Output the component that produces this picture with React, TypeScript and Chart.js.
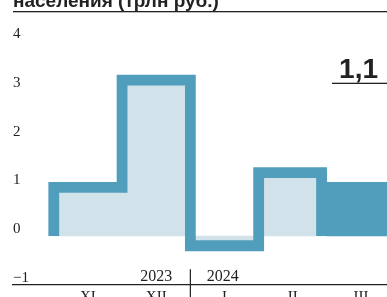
import React, { useEffect, useRef } from 'react';
import { Chart, registerables } from 'chart.js';

Chart.register(...registerables);

// ---- data ----
const months = ['XI', 'XII', 'I', 'II', 'III'];
const values = [1.0, 3.2, -0.2, 1.3, 1.1];
const highlightIndex = 4; // last month shown as solid bar
const yTicks = [-1, 0, 1, 2, 3, 4];
const years = ['2023', '2024'];
const yearBreak = 1.5; // between XII and I
const titleText = 'населения (трлн руб.)';
const calloutText = '1,1';

// ---- style ----
const DARK = '#509ebb';
const LIGHT = '#d2e2ea';
const INK = '#222222';
const SERIF = '"Liberation Serif", serif';
const SANS = '"Liberation Sans", Arial, sans-serif';
const W = 387;
const H = 297;

const decorPlugin = {
  id: 'decor',
  afterDatasetsDraw(chart: any) {
    const ctx = chart.ctx as CanvasRenderingContext2D;
    const area = chart.chartArea;
    const xs = chart.scales.x;
    const bars = chart.getDatasetMeta(0).data as any[];
    const lw = 10.8;

    // step outline over the regular months
    ctx.save();
    ctx.strokeStyle = DARK;
    ctx.lineWidth = lw;
    ctx.lineJoin = 'miter';
    ctx.lineCap = 'butt';
    ctx.beginPath();
    const base = bars[0].base;
    for (let i = 0; i < highlightIndex; i++) {
      const b = bars[i];
      const l = b.x - b.width / 2;
      const r = b.x + b.width / 2;
      if (i === 0) ctx.moveTo(l, base);
      ctx.lineTo(l, b.y);
      ctx.lineTo(i === highlightIndex - 1 ? r - lw / 2 : r, b.y);
    }
    const last = bars[highlightIndex - 1];
    ctx.lineTo(last.x + last.width / 2 - lw / 2, base);
    ctx.stroke();
    ctx.restore();

    ctx.save();
    // year divider + labels
    const xb = xs.getPixelForValue(yearBreak);
    ctx.fillStyle = INK;
    ctx.fillRect(xb - 0.6, area.bottom - 15.5, 1.2, H);
    ctx.font = `16px ${SERIF}`;
    ctx.textBaseline = 'alphabetic';
    ctx.textAlign = 'right';
    ctx.fillText(years[0], xb - 18, area.bottom - 3.7);
    ctx.textAlign = 'left';
    ctx.fillText(years[1], xb + 16.5, area.bottom - 3.7);

    // title (cut off at top) + rule
    ctx.font = `bold 19px ${SANS}`;
    ctx.textAlign = 'left';
    ctx.fillText(titleText, 13, 6.5);
    ctx.fillRect(13, 11, W - 13, 1.3);

    // callout
    ctx.font = `bold 28px ${SANS}`;
    ctx.textAlign = 'right';
    ctx.fillText(calloutText, 378, 78);
    ctx.fillRect(332, 82.7, W - 332, 1.3);
    ctx.restore();
  },
};

export default function App() {
  const ref = useRef<HTMLCanvasElement>(null);

  useEffect(() => {
    if (!ref.current) return;
    const chart = new Chart(ref.current, {
      type: 'bar',
      data: {
        datasets: [
          {
            data: values.map((v, i) => ({ x: i, y: v })),
            backgroundColor: values.map((_, i) => (i === highlightIndex ? DARK : LIGHT)),
            borderWidth: 0,
            barPercentage: 1,
            categoryPercentage: 1,
          },
        ],
      },
      options: {
        animation: false,
        responsive: false,
        devicePixelRatio: 1,
        layout: { padding: { top: 41.2, left: 13, right: 0, bottom: 0 } },
        plugins: { legend: { display: false }, tooltip: { enabled: false }, title: { display: false } },
        scales: {
          x: {
            type: 'linear',
            offset: false,
            min: -1.097,
            max: 4.379,
            grid: { display: false, drawTicks: false, offset: false },
            border: { display: true, color: INK, width: 1.3 },
            afterBuildTicks: (axis: any) => {
              axis.ticks = months.map((_, i) => ({ value: i }));
            },
            afterFit: (axis: any) => {
              axis.height = 12.3;
            },
            ticks: {
              autoSkip: false,
              maxRotation: 0,
              padding: 3,
              color: INK,
              font: { family: SERIF, size: 15 },
              callback: (v: any) => months[v as number] ?? '',
            },
          },
          y: {
            min: -1,
            max: 4,
            grid: { display: false, drawTicks: false },
            border: { display: false },
            afterBuildTicks: (axis: any) => {
              axis.ticks = yTicks.map((v) => ({ value: v }));
            },
            afterFit: (axis: any) => {
              axis.width = 0;
            },
            ticks: {
              mirror: true,
              padding: 0,
              labelOffset: -7,
              color: INK,
              font: { family: SERIF, size: 15 },
              callback: (v: any) => (v < 0 ? '\u2212' + Math.abs(v) : String(v)),
            },
          },
        },
      },
      plugins: [decorPlugin],
    } as any);
    return () => chart.destroy();
  }, []);

  return (
    <div style={{ position: 'absolute', left: 0, top: 0, width: W, height: H, overflow: 'hidden', background: '#fff' }}>
      <canvas ref={ref} width={W} height={H} style={{ display: 'block' }} />
    </div>
  );
}
